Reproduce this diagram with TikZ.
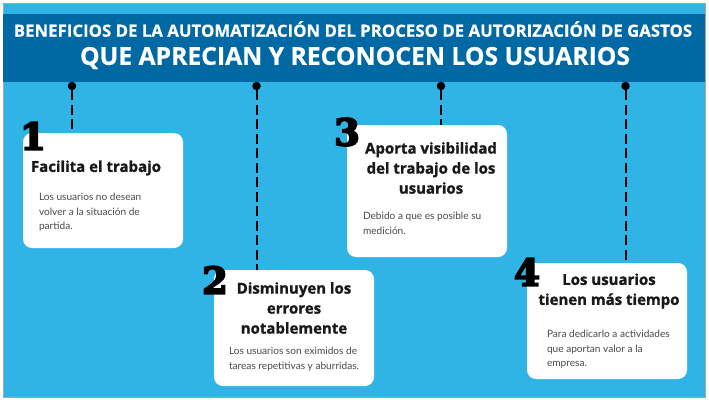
\documentclass[tikz,border=0pt]{standalone}
\usepackage{fontspec}
\setmainfont{Open Sans}
\newfontfamily\bodyfont{Lato}
\newfontfamily\bandfont[FakeBold=0.6]{Open Sans Bold}
\newfontfamily\titlefont[FakeBold=1.2]{Open Sans Bold}
\newfontfamily\numfont[FakeBold=5]{DejaVu Serif Bold}
\usetikzlibrary{positioning}
\definecolor{skyblue}{HTML}{30B4E6}
\definecolor{bandblue}{HTML}{0069A3}
\definecolor{bodygray}{HTML}{4A4A4A}
\tikzset{
    card/.style={fill=white, rounded corners=9pt, inner sep=0pt, minimum width=160pt},
    pinball/.style={circle, fill=black, inner sep=0pt, minimum size=8.5pt},
    pinline/.style={line width=2pt, dash pattern=on 10pt off 4.5pt},
    cardtitle/.style={align=center, font=\titlefont\fontsize{15}{20}\selectfont, text=black!90},
    cardbody/.style={align=left, font=\bodyfont\fontsize{10.1}{14.4}\selectfont, text=bodygray},
    cardnum/.style={font=\numfont\fontsize{37}{37}\selectfont, text=black, inner sep=0pt},
    headline/.style={text=white}
}
\begin{document}
\begin{tikzpicture}
        [x=1pt, y=-1pt, node distance=184.5pt]
        \useasboundingbox (0,0) rectangle (709,404);
        \path [fill=white] (0,0) rectangle (709,404);
        \path [fill=skyblue, draw=gray!70, line width=0.6pt] (3,3) rectangle (705,397);
        \path [fill=bandblue] (3.3,14) rectangle (704.7,82);

        \node [headline, font=\bandfont\fontsize{16.8}{18}\selectfont] (title) at (353,29) {BENEFICIOS DE LA AUTOMATIZACIÓN DEL PROCESO DE AUTORIZACIÓN DE GASTOS};
        \node [headline, font=\bandfont\fontsize{24.7}{26}\selectfont] (subtitle) at (355,58) {QUE APRECIAN Y RECONOCEN LOS USUARIOS};

        \node [pinball] (pin1) at (72,86) {};
        \node [pinball, right of=pin1] (pin2) {};
        \node [pinball, right of=pin2] (pin3) {};
        \node [pinball, right of=pin3] (pin4) {};

        \node [card, minimum height=115pt] (card1) at (103,190.5) {};
        \node [card, minimum height=116pt] (card2) at (294,328) {};
        \node [card, minimum height=132pt] (card3) at (427,191) {};
        \node [card, minimum height=116pt] (card4) at (607,321) {};

        \draw [pinline] (pin1) -- (pin1 |- card1.north);
        \draw [pinline] (pin2) -- (pin2 |- card2.north);
        \draw [pinline] (pin3) -- (pin3 |- card3.north);
        \draw [pinline] (pin4) -- (pin4 |- card4.north);

        \node [cardnum] (num1) at (33,136) {1};
        \node [cardnum] (num2) at (215,280) {2};
        \node [cardnum] (num3) at (347,132) {3};
        \node [cardnum] (num4) at (527,272) {4};

        \node [cardtitle] (head1) at (96,168) {Facilita el trabajo};
        \node [cardtitle] (head2) at (294,308) {Disminuyen los\\errores\\notablemente};
        \node [cardtitle] (head3) at (431,168) {Aporta visibilidad\\del trabajo de los\\usuarios};
        \node [cardtitle] (head4) at (609,291) {Los usuarios\\tienen más tiempo};

        \node [cardbody, anchor=north west] (text1) at (35.5,190) {Los usuarios no desean\\volver a la situación de\\partida.};
        \node [cardbody, anchor=north west] (text2) at (225.5,344) {Los usuarios son eximidos de\\tareas repetitivas y aburridas.};
        \node [cardbody, anchor=north west] (text3) at (359.5,209) {Debido a que es posible su\\medición.};
        \node [cardbody, anchor=north west] (text4) at (543.5,327) {Para dedicarlo a actividades\\que aportan valor a la\\empresa.};
\end{tikzpicture}
\end{document}
